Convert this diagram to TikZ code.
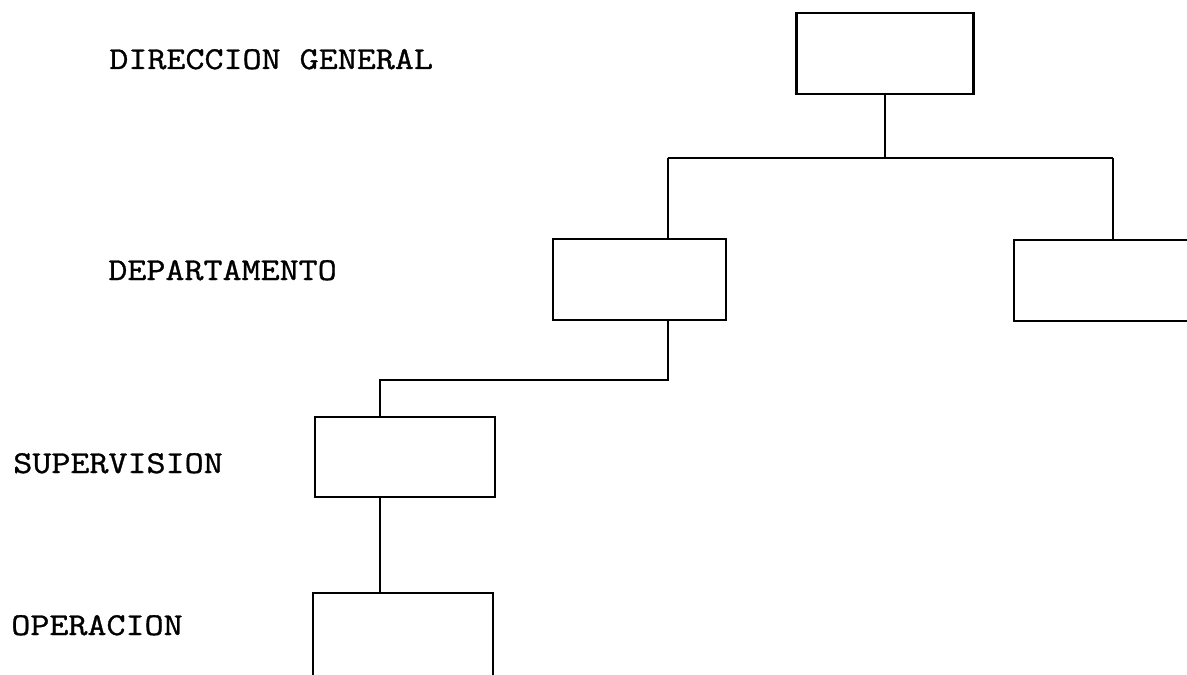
\documentclass[tikz,border=0pt]{standalone}
\usepackage{fontspec}
\setmonofont[FakeStretch=1.16,FakeBold=1]{Latin Modern Mono}
\tikzset{every picture/.style={line width=2pt}}
\tikzset{box/.style={draw, rectangle, inner sep=0pt, minimum width=#1*0.75pt}, box/.default=177,
         lbl/.style={anchor=base west, inner sep=0pt, font=\ttfamily\fontsize{23.9}{29}\selectfont}}

\begin{document}
\begin{tikzpicture}[x=0.75pt,y=0.75pt,yscale=-1,xscale=1]
        \useasboundingbox (0,0) rectangle (1187,674);
        \clip (0,0) rectangle (1187,674);

        \node[lbl] (tdir) at (108,69) {DIRECCION GENERAL};
        \node[lbl] (tdept) at (107,280) {DEPARTAMENTO};
        \node[lbl] (tsup) at (12,473) {SUPERVISION};
        \node[lbl] (toper) at (10,635) {OPERACION};

        \node[box=177, minimum height=60.75pt] (dir) at (885,53.5) {};
        \node[box=173, minimum height=60.75pt] (dept) at (639.5,279.5) {};
        \node[box=186, minimum height=60.75pt] (deptr) at (1107,280.5) {};
        \node[box=180, minimum height=60pt] (sup) at (405,457) {};
        \node[box=180, minimum height=67.5pt] (oper) at (403,638) {};

        \coordinate (busL) at (668,158);
        \coordinate (busR) at (1113,158);
        \coordinate (sbus) at (380,380);

        \draw    (dir.south) -- (dir.south |- busL) ;
        \draw    (busL) -- (busR) ;
        \draw    (busL) -- (busL |- dept.north) ;
        \draw    (busR) -- (busR |- deptr.north) ;

        \draw    (dept.south -| busL) -- (busL |- sbus) -- (sbus) -- (sbus |- sup.north) ;
        \draw    (sbus |- sup.south) -- (sbus |- oper.north) ;
    \end{tikzpicture}
\end{document}
